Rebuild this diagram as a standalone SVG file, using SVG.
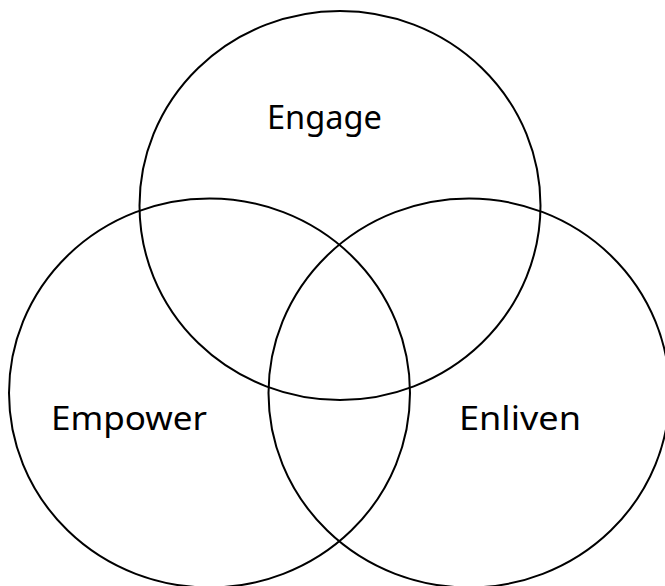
<svg xmlns="http://www.w3.org/2000/svg" width="665" height="586" viewBox="0 0 665 586">
<style>
.c{fill:none;stroke:#000;stroke-width:2}
.t{font-family:"Noto Sans","DejaVu Sans",sans-serif;font-size:33px;fill:#000}
</style>
<rect width="665" height="586" fill="#fff"/>
<g id="engage"><ellipse class="c" cx="340" cy="205.5" rx="200.5" ry="194.5"/><text class="t" x="267" y="129" textLength="115" lengthAdjust="spacingAndGlyphs">Engage</text></g>
<g id="empower"><ellipse class="c" cx="209.5" cy="393" rx="200.5" ry="194.5"/><text class="t" x="51" y="430" textLength="156" lengthAdjust="spacingAndGlyphs">Empower</text></g>
<g id="enliven"><ellipse class="c" cx="469" cy="393" rx="200.5" ry="194.5"/><text class="t" x="459" y="430" textLength="122" lengthAdjust="spacingAndGlyphs">Enliven</text></g>
<g id="connectors"/>
</svg>
